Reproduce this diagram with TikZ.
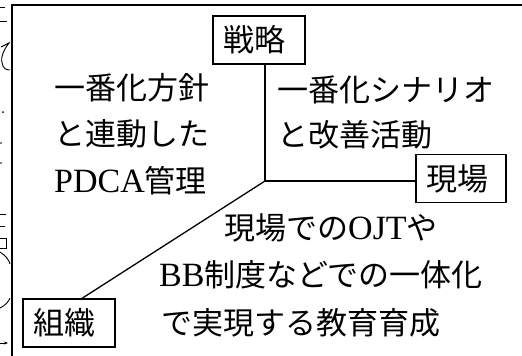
\documentclass[tikz,border=0pt]{standalone}
\usepackage{fontspec}
\setmainfont{Liberation Serif}
\newfontfamily\cjk{Noto Sans CJK JP}
\newcommand\lat[1]{{\rmfamily\fontsize{34}{34}\selectfont #1}}
\usetikzlibrary{calc,arrows.meta}
\begin{document}
\begin{tikzpicture}[x=1pt,y=-1pt,
  txt/.style={inner sep=0pt, anchor=west, font=\cjk\fontsize{31}{36}\selectfont},
  box/.style={draw, line width=1.3pt, inner ysep=0pt, inner xsep=10pt, text width=72pt,
              minimum height=48pt, align=left, font=\cjk\fontsize{31}{36}\selectfont},
  conn/.style={line width=1.3pt},
  framepath/.style={line width=2pt},
  frag/.style={line width=0.9pt}]
\useasboundingbox (0,0) rectangle (522,356);

% frame of the panel
\coordinate (FB) at (11.5,356);
\coordinate (FL) at (11.5,5);
\coordinate (FR) at (522,5);
\draw[framepath] (FB) -- (FL) -- (FR);

% cut-off strokes of the neighbouring column
\begin{scope}
  \clip (0,0) rectangle (10.5,356);
  \draw[frag] (0,7) -- (5,7);
  \draw[frag] (0,21) -- (7,21);
  \draw[frag] (1,47) -- (9,43) .. controls (2,52) and (0,60) .. (3,66) .. controls (5,70) and (8,70) .. (10,70);
  \fill (3,112) circle (1pt);
  \fill (1,143) circle (0.8pt);
  \fill (1,163) circle (0.8pt);
  \draw[frag] (0,214) -- (6,214) (0,226) -- (5,226) (0,238) -- (6,238) -- (6,248) -- (0,248);
  \draw[frag] (0,252) .. controls (6,256) and (9,260) .. (10,264);
  \draw[frag] (10,298) .. controls (8,303) and (4,306) .. (0,308);
  \draw[frag, -{Stealth[length=4pt]}] (0,343) -- (8,343);
\end{scope}

% boxes
\node[box] (senryaku) at (259,40) {戦略};
\node[box, text width=70pt] (genba) at (461,178.5) {現場};
\node[box] (soshiki) at (69,323) {組織};

% connectors
\coordinate (J) at (265,181);
\draw[conn] (J |- senryaku.south) -- (J) -- (J -| genba.west);
\draw[conn] (J) -- ([xshift=13pt]soshiki.north);

% texts
\node[txt] (l1) at (54,88) {一番化方針};
\node[txt] (l2) at (54,134) {と連動した};
\node[txt] (l3) at (54,181) {\lat{PDCA}管理};
\node[txt] (r1) at (277,90) {一番化シナリオ};
\node[txt] (r2) at (277,135) {と改善活動};
\node[txt] (b1) at (224,228) {現場での\lat{OJT}や};
\node[txt] (b2) at (159,275) {\lat{BB}制度などでの一体化};
\node[txt] (b3) at (161,323) {で実現する教育育成};
\end{tikzpicture}
\end{document}
